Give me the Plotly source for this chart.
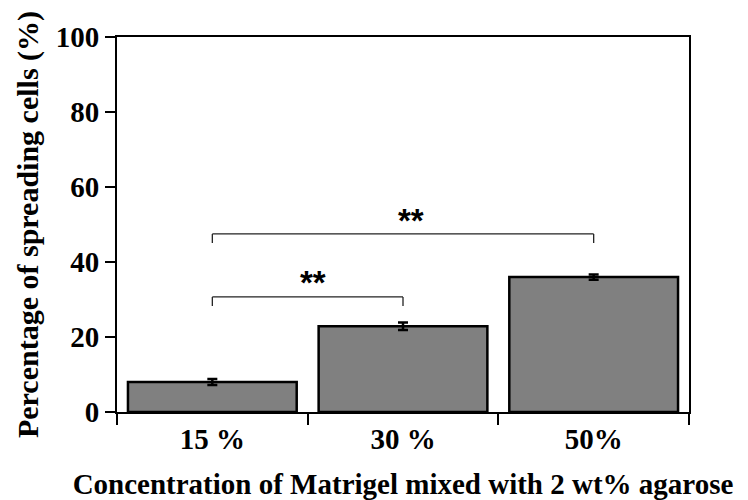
import plotly.graph_objects as go

categories = ["15 %", "30 %", "50%"]
values = [8.0, 22.9, 36.0]
errors = [0.8, 1.0, 0.7]

# significance brackets: (start index, end index, bar height, drop height, label)
bracket_start = [0, 0]
bracket_end = [2, 1]
bracket_y = [47.5, 30.7]
bracket_drop = [45.1, 28.3]
bracket_label = ["**", "**"]
label_x = [1.04, 0.53]
label_y = [51.0, 34.6]

serif = "Liberation Serif"

fig = go.Figure()
fig.add_trace(go.Bar(
    x=categories, y=values,
    marker=dict(color="#808080", line=dict(color="black", width=2.5)),
    error_y=dict(type="data", array=errors, color="black", thickness=2.5, width=5),
    width=0.885,
))

shapes = []
annotations = []
for s, e, y, d, lab, lx, ly in zip(bracket_start, bracket_end, bracket_y, bracket_drop,
                                   bracket_label, label_x, label_y):
    line = dict(color="#222222", width=1.3)
    shapes.append(dict(type="line", xref="x", yref="y", x0=s, x1=e, y0=y, y1=y, line=line))
    shapes.append(dict(type="line", xref="x", yref="y", x0=s, x1=s, y0=d, y1=y, line=line))
    shapes.append(dict(type="line", xref="x", yref="y", x0=e, x1=e, y0=d, y1=y, line=line))
    annotations.append(dict(x=lx, y=ly, xref="x", yref="y", text="<b>" + lab + "</b>",
                            showarrow=False,
                            font=dict(family="Liberation Sans", size=33, color="black")))

fig.update_layout(
    width=748, height=500,
    margin=dict(l=117, r=59, t=37, b=88),
    paper_bgcolor="white", plot_bgcolor="white",
    showlegend=False,
    shapes=shapes, annotations=annotations,
    font=dict(family=serif, color="black"),
)
fig.update_xaxes(
    type="category", range=[-0.5, 2.5],
    showline=True, linecolor="black", linewidth=2, mirror=True,
    ticks="outside", tickson="boundaries", ticklen=11, tickwidth=2, tickcolor="black",
    showgrid=False, zeroline=False,
    tickfont=dict(family=serif, size=29, color="black", weight="bold"),
    title=dict(text="<b>Concentration of Matrigel mixed with 2 wt% agarose</b>",
               font=dict(family=serif, size=29, color="black"), standoff=20),
    automargin=False,
)
fig.update_yaxes(
    range=[0, 100], tickvals=[0, 20, 40, 60, 80, 100],
    showline=True, linecolor="black", linewidth=2, mirror=True,
    ticks="outside", ticklen=10, tickwidth=2, tickcolor="black",
    showgrid=False, zeroline=False,
    tickfont=dict(family=serif, size=29, color="black", weight="bold"),
    title=dict(text="<b>Percentage of spreading cells (%)</b>",
               font=dict(family=serif, size=30, color="black"), standoff=8),
    automargin=False,
)

fig.write_html("out.html", config={"displayModeBar": False},
               post_script="document.body.style.margin='0';")
